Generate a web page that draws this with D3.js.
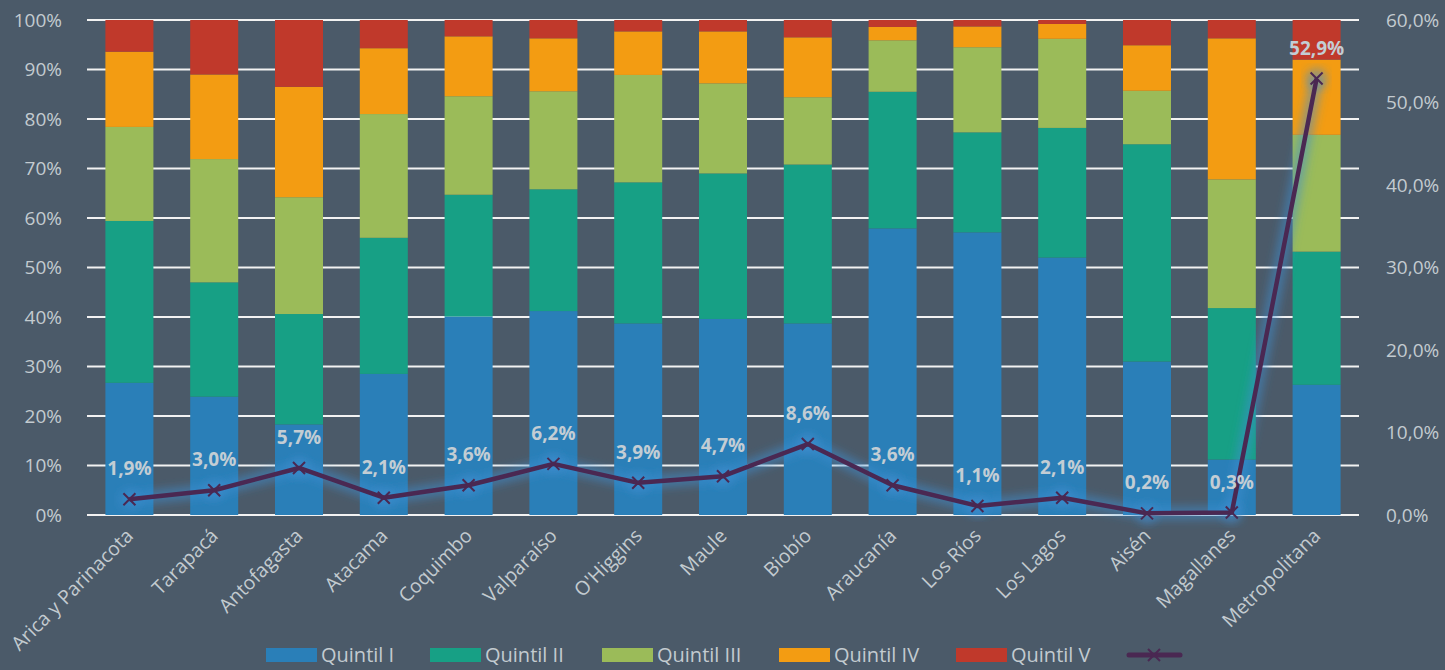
<!DOCTYPE html>
<html>
<head>
<meta charset="utf-8">
<script src="https://cdn.jsdelivr.net/npm/d3@7"></script>
<style>
  body { margin: 0; background: #4b5a69; }
  svg { display: block; }
  text { font-family: "Open Sans", sans-serif; }
</style>
</head>
<body>
<div id="main"></div>
<script>
// regions (x axis)
var regions = ["Arica y Parinacota", "Tarapacá", "Antofagasta", "Atacama", "Coquimbo",
  "Valparaíso", "O'Higgins", "Maule", "Biobío", "Araucanía", "Los Ríos", "Los Lagos",
  "Aisén", "Magallanes", "Metropolitana"];

// stacked shares, percent
var quintil1 = [26.7, 23.9, 18.3, 28.5, 40.1, 41.2, 38.7, 39.6, 38.7, 57.9, 57.1, 52.0, 31.0, 11.2, 26.3];
var quintil2 = [32.7, 23.1, 22.3, 27.5, 24.6, 24.6, 28.5, 29.4, 32.1, 27.6, 20.2, 26.2, 43.9, 30.6, 26.9];
var quintil3 = [19.0, 24.9, 23.6, 25.0, 19.9, 19.8, 21.7, 18.2, 13.6, 10.4, 17.2, 18.0, 10.8, 26.0, 23.6];
var quintil4 = [15.2, 17.1, 22.3, 13.3, 12.1, 10.7, 8.8, 10.5, 12.1, 2.7, 4.2, 3.0, 9.2, 28.5, 15.2];
var quintil5 = [6.4, 11.0, 13.5, 5.7, 3.3, 3.7, 2.3, 2.3, 3.5, 1.4, 1.3, 0.8, 5.1, 3.7, 8.0];

// line on the right axis, percent
var lineValues = [1.9, 3.0, 5.7, 2.1, 3.6, 6.2, 3.9, 4.7, 8.6, 3.6, 1.1, 2.1, 0.2, 0.3, 52.9];

var seriesNames = ["Quintil I", "Quintil II", "Quintil III", "Quintil IV", "Quintil V"];
var seriesColors = ["#2a7fb8", "#17a085", "#9bbb59", "#f39c12", "#c0392b"];
var leftTicks = [0, 10, 20, 30, 40, 50, 60, 70, 80, 90, 100];
var rightTicks = [0, 10, 20, 30, 40, 50, 60];

var width = 1445, height = 670;
var margin = { top: 20, left: 87, right: 86, bottom: 155 };
var textColor = "#c3cbd0";
var lineColor = "#4a2852";

var rows = regions.map(function (r, i) {
    return { region: r, q1: quintil1[i], q2: quintil2[i], q3: quintil3[i], q4: quintil4[i], q5: quintil5[i] };
});

var svg = d3.select("#main").append("svg")
    .attr("width", width)
    .attr("height", height);

var defs = svg.append("defs");
defs.append("filter").attr("id", "glow")
    .attr("x", "-20%").attr("y", "-20%").attr("width", "140%").attr("height", "140%")
    .append("feGaussianBlur").attr("stdDeviation", 4);

var x = d3.scaleBand()
    .domain(regions)
    .range([margin.left, width - margin.right])
    .paddingInner(0.434)
    .paddingOuter(0.217);

var y = d3.scaleLinear().domain([0, 100]).range([height - margin.bottom, margin.top]);
var y2 = d3.scaleLinear().domain([0, 60]).range(y.range());

// gridlines
svg.append("g")
    .selectAll("line")
    .data(leftTicks)
    .join("line")
    .attr("x1", margin.left)
    .attr("x2", width - margin.right)
    .attr("y1", d => y(d))
    .attr("y2", d => y(d))
    .attr("stroke", "#f2f2f2")
    .attr("stroke-width", 2);

// stacked bars
var stack = d3.stack().keys(["q1", "q2", "q3", "q4", "q5"]);
var layers = stack(rows);

svg.append("g")
    .selectAll("g")
    .data(layers)
    .join("g")
    .attr("fill", (d, i) => seriesColors[i])
    .selectAll("rect")
    .data(d => d)
    .join("rect")
    .attr("x", d => x(d.data.region))
    .attr("width", x.bandwidth())
    .attr("y", d => y(d[1]))
    .attr("height", d => y(d[0]) - y(d[1]));

// left axis
var axL = svg.append("g")
    .attr("transform", "translate(" + (margin.left - 22) + ",0)")
    .call(d3.axisLeft(y).tickValues(leftTicks).tickSize(0).tickFormat(d => d + "%"));
axL.select(".domain").remove();
axL.selectAll("text")
    .attr("fill", textColor)
    .style("font-size", "19px")
    .style("font-family", "'Open Sans', sans-serif");

// right axis
var locale = d3.formatLocale({ decimal: ",", thousands: ".", grouping: [3], currency: ["", ""] });
var fmt1 = locale.format(".1f");
var axR = svg.append("g")
    .attr("transform", "translate(" + (width - margin.right + 24) + ",0)")
    .call(d3.axisRight(y2).tickValues(rightTicks).tickSize(0).tickFormat(d => fmt1(d) + "%"));
axR.select(".domain").remove();
axR.selectAll("text")
    .attr("fill", textColor)
    .style("font-size", "19px")
    .style("font-family", "'Open Sans', sans-serif");

// category labels
svg.append("g")
    .selectAll("text")
    .data(regions)
    .join("text")
    .attr("transform", d => "translate(" + (x(d) + x.bandwidth() / 2 + 5) + "," + (y(0) + 22) + ") rotate(-45)")
    .attr("text-anchor", "end")
    .attr("fill", textColor)
    .style("font-size", "19.5px")
    .text(d => d);

// line with glow
var cx = d => x(d) + x.bandwidth() / 2;
var linePts = regions.map((r, i) => [cx(r), y2(lineValues[i])]);
var lineGen = d3.line();

svg.append("path")
    .attr("d", lineGen(linePts))
    .attr("fill", "none")
    .attr("stroke", "#3d8fd1")
    .attr("stroke-opacity", 0.5)
    .attr("stroke-width", 14)
    .attr("stroke-linejoin", "round")
    .attr("filter", "url(#glow)");

svg.append("g")
    .selectAll("circle")
    .data(linePts)
    .join("circle")
    .attr("cx", d => d[0])
    .attr("cy", d => d[1])
    .attr("r", 11)
    .attr("fill", "#3d8fd1")
    .attr("fill-opacity", 0.45)
    .attr("filter", "url(#glow)");

svg.append("path")
    .attr("d", lineGen(linePts))
    .attr("fill", "none")
    .attr("stroke", lineColor)
    .attr("stroke-width", 4.5)
    .attr("stroke-linejoin", "round");

var xMark = "M-6,-6L6,6M-6,6L6,-6";
svg.append("g")
    .selectAll("path")
    .data(linePts)
    .join("path")
    .attr("transform", d => "translate(" + d[0] + "," + d[1] + ")")
    .attr("d", xMark)
    .attr("stroke", lineColor)
    .attr("stroke-width", 2);

// data labels
svg.append("g")
    .selectAll("text")
    .data(linePts)
    .join("text")
    .attr("x", d => d[0])
    .attr("y", d => d[1] - 24)
    .attr("text-anchor", "middle")
    .attr("fill", "#c3cdd4")
    .style("font-size", "19px")
    .style("font-weight", "bold")
    .text((d, i) => fmt1(lineValues[i]) + "%");

// legend
var legendX = [266, 430, 602, 779, 956];
var leg = svg.append("g");
seriesNames.forEach(function (name, i) {
    leg.append("rect")
        .attr("x", legendX[i]).attr("y", 648)
        .attr("width", 51).attr("height", 14)
        .attr("fill", seriesColors[i]);
    leg.append("text")
        .attr("x", legendX[i] + 55).attr("y", 662)
        .attr("fill", textColor)
        .style("font-size", "20px")
        .text(name);
});
leg.append("line")
    .attr("x1", 1129).attr("x2", 1180).attr("y1", 655).attr("y2", 655)
    .attr("stroke", lineColor).attr("stroke-width", 5).attr("stroke-linecap", "round");
leg.append("path")
    .attr("transform", "translate(1154,655)")
    .attr("d", xMark)
    .attr("stroke", lineColor).attr("stroke-width", 2);
</script>
</body>
</html>
